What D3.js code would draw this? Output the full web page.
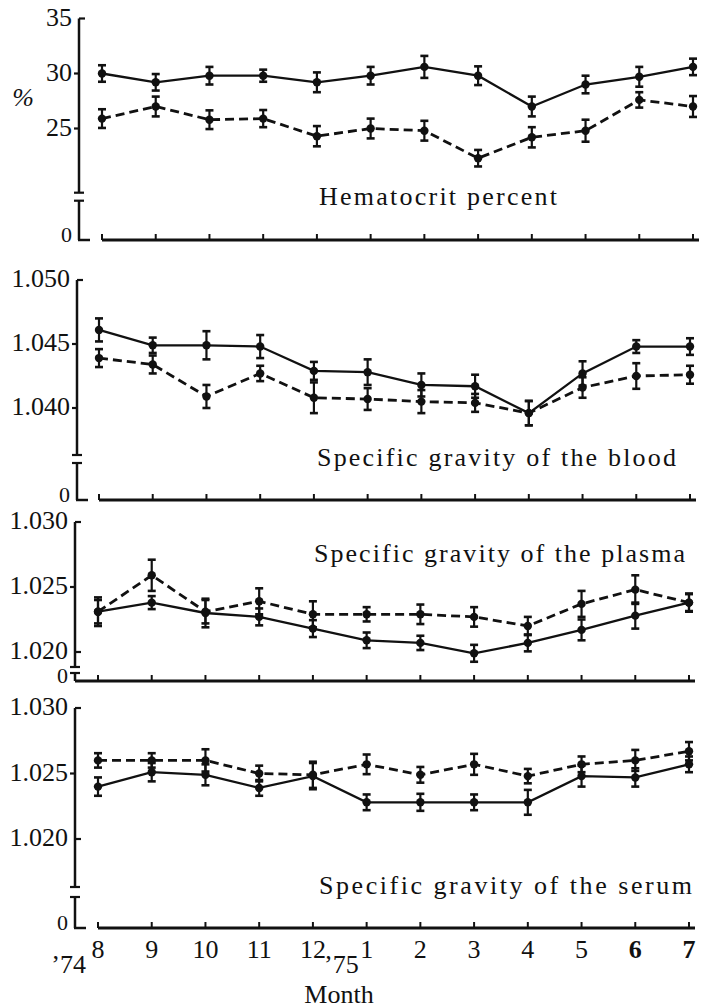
<!DOCTYPE html>
<html>
<head>
<meta charset="utf-8">
<script src="https://cdn.jsdelivr.net/npm/d3@7"></script>
<style>
  html, body { margin: 0; padding: 0; background: #fff; }
  svg { display: block; }
  text { font-family: "Liberation Serif", "DejaVu Serif", serif; fill: #111; }
</style>
</head>
<body>
<svg id="chart" width="704" height="1008"></svg>
<script>
// ---------- data ----------
const months = ["8", "9", "10", "11", "12", "1", "2", "3", "4", "5", "6", "7"];
const yearLabels = ["’74", "’75"];
const xTitle = "Month";

const hctTicks = [25, 30, 35];
const hctTickLabels = ["25", "30", "35"];
const hctSolid = [30.0, 29.2, 29.8, 29.8, 29.2, 29.8, 30.6, 29.8, 27.0, 29.0, 29.7, 30.6];
const hctSolidErr = [0.75, 0.75, 0.8, 0.55, 0.9, 0.8, 1.0, 0.85, 0.9, 0.8, 0.9, 0.75];
const hctDashed = [25.9, 27.0, 25.8, 25.9, 24.3, 25.0, 24.8, 22.3, 24.2, 24.8, 27.6, 27.0];
const hctDashedErr = [0.85, 0.9, 0.85, 0.78, 0.92, 0.9, 0.9, 0.75, 0.92, 1.0, 0.7, 0.95];

const bloodTicks = [1.040, 1.045, 1.050];
const bloodTickLabels = ["1.040", "1.045", "1.050"];
const bloodSolid = [1.0461, 1.0449, 1.0449, 1.0448, 1.0429, 1.0428, 1.0418, 1.0417, 1.0396, 1.0427, 1.0448, 1.0448];
const bloodSolidErr = [0.0009, 0.0006, 0.0011, 0.0009, 0.0007, 0.001, 0.0009, 0.0009, 0.00095, 0.00095, 0.0005, 0.00065];
const bloodDashed = [1.0439, 1.0434, 1.0409, 1.0427, 1.0408, 1.0407, 1.0405, 1.0404, 1.0396, 1.0416, 1.0425, 1.0426];
const bloodDashedErr = [0.0007, 0.0007, 0.0009, 0.0006, 0.0012, 0.00085, 0.0009, 0.0007, 0.00095, 0.0008, 0.001, 0.0007];

const plasmaTicks = [1.020, 1.025, 1.030];
const plasmaTickLabels = ["1.020", "1.025", "1.030"];
const plasmaSolid = [1.0231, 1.0238, 1.0230, 1.0227, 1.0218, 1.0209, 1.0207, 1.0199, 1.0207, 1.0217, 1.0228, 1.0238];
const plasmaSolidErr = [0.0011, 0.0005, 0.0011, 0.00065, 0.00065, 0.0006, 0.00055, 0.00065, 0.00065, 0.0008, 0.001, 0.00065];
const plasmaDashed = [1.0231, 1.0259, 1.0231, 1.0239, 1.0229, 1.0229, 1.0229, 1.0227, 1.0220, 1.0237, 1.0248, 1.0238];
const plasmaDashedErr = [0.0009, 0.0012, 0.0009, 0.001, 0.001, 0.00055, 0.00075, 0.00075, 0.0007, 0.001, 0.0011, 0.0007];

const serumTicks = [1.020, 1.025, 1.030];
const serumTickLabels = ["1.020", "1.025", "1.030"];
const serumSolid = [1.0240, 1.0251, 1.0249, 1.0239, 1.0248, 1.0228, 1.0228, 1.0228, 1.0228, 1.0248, 1.0247, 1.0257];
const serumSolidErr = [0.0007, 0.0007, 0.0008, 0.0006, 0.001, 0.0006, 0.00065, 0.0006, 0.00095, 0.0008, 0.0007, 0.0006];
const serumDashed = [1.0260, 1.0260, 1.0260, 1.0250, 1.0249, 1.0257, 1.0249, 1.0257, 1.0248, 1.0257, 1.0260, 1.0267];
const serumDashedErr = [0.00055, 0.00055, 0.00085, 0.0006, 0.001, 0.00075, 0.0006, 0.0008, 0.00055, 0.0006, 0.0008, 0.0007];

const titles = ["Hematocrit percent", "Specific gravity of the blood", "Specific gravity of the plasma", "Specific gravity of the serum"];
const unitLabel = "%";
const zeroLabel = "0";

// ---------- layout ----------
const svg = d3.select("#chart");
const INK = "#111";

const panels = [
  { solid: hctSolid, solidErr: hctSolidErr, dashed: hctDashed, dashedErr: hctDashedErr,
    ticks: hctTicks, tickLabels: hctTickLabels, title: titles[0],
    domain: [25, 35], range: [128.5, 18.5], axisX: 79, shift: 4,
    brk: [192.7, 200.7], base: 240, tx: 319, ty: 205, tlen: 238, fullBase: false, lowRight: false },
  { solid: bloodSolid, solidErr: bloodSolidErr, dashed: bloodDashed, dashedErr: bloodDashedErr,
    ticks: bloodTicks, tickLabels: bloodTickLabels, title: titles[1],
    domain: [1.040, 1.050], range: [408, 280], axisX: 77, shift: 1,
    brk: [455, 463], base: 500, tx: 317, ty: 466, tlen: 359, fullBase: false, lowRight: false },
  { solid: plasmaSolid, solidErr: plasmaSolidErr, dashed: plasmaDashed, dashedErr: plasmaDashedErr,
    ticks: plasmaTicks, tickLabels: plasmaTickLabels, title: titles[2],
    domain: [1.020, 1.030], range: [652, 522], axisX: 75, shift: 0,
    brk: [667, 673], base: 681, tx: 314, ty: 562, tlen: 371, fullBase: true, lowRight: true },
  { solid: serumSolid, solidErr: serumSolidErr, dashed: serumDashed, dashedErr: serumDashedErr,
    ticks: serumTicks, tickLabels: serumTickLabels, title: titles[3],
    domain: [1.020, 1.030], range: [839, 708], axisX: 75, shift: 0,
    brk: [887, 897], base: 928, tx: 319, ty: 894, tlen: 373, fullBase: false, lowRight: true }
];

panels.forEach((p, pi) => {
  const g = svg.append("g");
  const x = d3.scalePoint().domain(months).range([98 + p.shift, 689 + p.shift]);
  const y = d3.scaleLinear().domain(p.domain).range(p.range);
  const top = y(p.domain[1]);

  // y axis segments
  g.append("line").attr("x1", p.axisX).attr("x2", p.axisX).attr("y1", top).attr("y2", p.brk[0])
    .attr("stroke", INK).attr("stroke-width", 2.5);
  g.append("line").attr("x1", p.axisX).attr("x2", p.axisX).attr("y1", p.brk[1]).attr("y2", p.base)
    .attr("stroke", INK).attr("stroke-width", 2.5);
  // break caps
  p.brk.forEach(b => {
    g.append("line").attr("x1", p.axisX - 5).attr("x2", p.axisX + 5).attr("y1", b).attr("y2", b)
      .attr("stroke", INK).attr("stroke-width", 2.2);
  });
  // y ticks + labels
  p.ticks.forEach((t, i) => {
    const yy = y(t);
    const isTop = i === p.ticks.length - 1;
    const right = isTop || (i === 0 && p.lowRight);
    g.append("line")
      .attr("x1", p.axisX).attr("x2", right ? p.axisX + 6 : p.axisX - 5)
      .attr("y1", yy).attr("y2", yy).attr("stroke", INK).attr("stroke-width", 2.2);
    g.append("text").attr("x", p.axisX - 7).attr("y", yy + 7)
      .attr("text-anchor", "end").attr("font-size", 26).text(p.tickLabels[i]);
  });
  // zero label
  g.append("text").attr("x", p.axisX - 7).attr("y", p.base + 2)
    .attr("text-anchor", "end").attr("font-size", 22).text(zeroLabel);

  // L foot
  if (!p.fullBase) {
    g.append("line").attr("x1", p.axisX - 1).attr("x2", p.axisX + 11).attr("y1", p.base).attr("y2", p.base)
      .attr("stroke", INK).attr("stroke-width", 2.5);
  }
  // x axis line
  const xStart = p.fullBase ? p.axisX : x(months[0]);
  g.append("line").attr("x1", xStart).attr("x2", Math.min(701, x(months[months.length - 1]) + 6))
    .attr("y1", p.base).attr("y2", p.base).attr("stroke", INK).attr("stroke-width", 2.8);
  months.forEach(m => {
    g.append("line").attr("x1", x(m)).attr("x2", x(m)).attr("y1", p.base).attr("y2", p.base - 6)
      .attr("stroke", INK).attr("stroke-width", 2);
  });

  // title
  g.append("text").attr("x", p.tx).attr("y", p.ty).attr("font-size", 26)
    .attr("textLength", p.tlen).attr("lengthAdjust", "spacing").text(p.title);

  // series
  const series = [
    { vals: p.dashed, errs: p.dashedErr, dash: "9,5", w: 2.8 },
    { vals: p.solid, errs: p.solidErr, dash: null, w: 2.3 }
  ];
  series.forEach(s => {
    const line = d3.line().x((d, i) => x(months[i])).y(d => y(d));
    g.append("path").datum(s.vals).attr("d", line).attr("fill", "none")
      .attr("stroke", INK).attr("stroke-width", s.w)
      .attr("stroke-dasharray", s.dash);
  });
  series.forEach(s => {
    s.vals.forEach((v, i) => {
      const cx = x(months[i]);
      const y1 = y(v + s.errs[i]), y2 = y(v - s.errs[i]);
      g.append("line").attr("x1", cx).attr("x2", cx).attr("y1", y1).attr("y2", y2)
        .attr("stroke", INK).attr("stroke-width", 2.2);
      [y1, y2].forEach(yy => {
        g.append("line").attr("x1", cx - 4).attr("x2", cx + 4).attr("y1", yy).attr("y2", yy)
          .attr("stroke", INK).attr("stroke-width", 2.6);
      });
      g.append("circle").attr("cx", cx).attr("cy", y(v)).attr("r", 4.2).attr("fill", INK);
    });
  });

  if (pi === 0) {
    g.append("text").attr("x", 23).attr("y", 106).attr("text-anchor", "middle")
      .attr("font-size", 26).attr("font-style", "italic").text(unitLabel);
  }

  if (pi === panels.length - 1) {
    months.forEach((m, i) => {
      g.append("text").attr("x", x(m)).attr("y", 958).attr("text-anchor", "middle")
        .attr("font-size", 26).attr("font-weight", i >= 10 ? "bold" : "normal").text(m);
    });
    g.append("text").attr("x", 86).attr("y", 973).attr("text-anchor", "end")
      .attr("font-size", 26).text(yearLabels[0]);
    g.append("text").attr("x", 324).attr("y", 973).attr("text-anchor", "start")
      .attr("font-size", 26).text(yearLabels[1]);
    g.append("text").attr("x", 339).attr("y", 1003).attr("text-anchor", "middle")
      .attr("font-size", 26).text(xTitle);
  }
});
</script>
</body>
</html>
